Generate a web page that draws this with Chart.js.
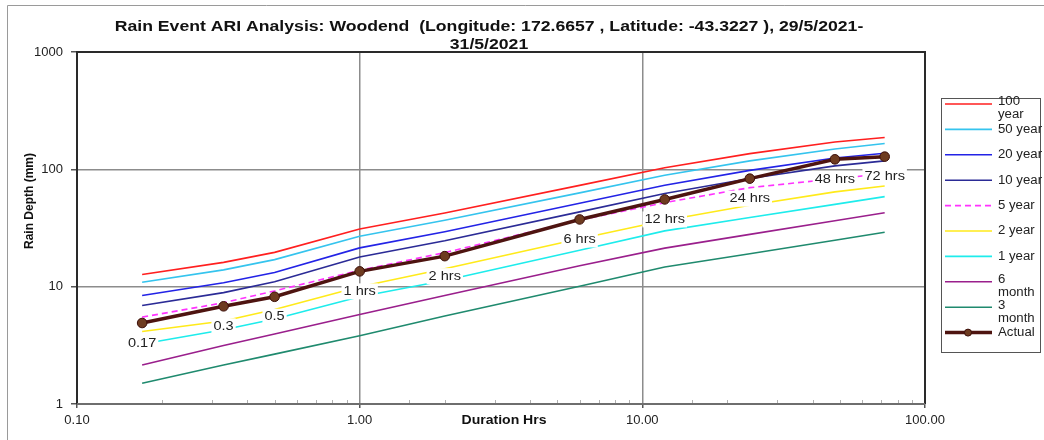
<!DOCTYPE html>
<html>
<head>
<meta charset="utf-8">
<title>Rain Event ARI Analysis: Woodend</title>
<script src="https://cdn.jsdelivr.net/npm/chart.js@4.4.1/dist/chart.umd.min.js"></script>
<style>
  html, body { margin: 0; padding: 0; background: #fff; }
  #wrap { width: 1044px; height: 440px; position: relative; }
</style>
</head>
<body>
<div id="wrap"><canvas id="ariChart"></canvas></div>
<script>
// durations (hrs) on the x axis, and the labels printed next to the actual points
const durations = [0.17, 0.33, 0.5, 1, 2, 6, 12, 24, 48, 72];
const pointLabels = ['0.17', '0.3', '0.5', '1 hrs', '2 hrs', '6 hrs', '12 hrs', '24 hrs', '48 hrs', '72 hrs'];

// rain depth (mm) per ARI curve
const ari100yr = [12.7, 16.1, 19.6, 31, 42.5, 73, 103, 136, 171, 187];
const ari50yr = [10.9, 13.9, 17.0, 26.9, 36.8, 63, 89, 118, 149, 166];
const ari20yr = [8.4, 10.8, 13.2, 21.4, 29.4, 51.4, 73.3, 98, 125, 137];
const ari10yr = [6.9, 8.9, 11.0, 17.9, 24.6, 43.4, 62.2, 83.4, 107, 118];
const ari5yr = [5.5, 7.3, 9.2, 13.8, 19.5, 37, 52, 69.8, 83, 92];
const ari2yr = [4.15, 5.1, 6.4, 10.0, 14.2, 25.6, 36.6, 49.4, 64.3, 72];
const ari1yr = [3.25, 4.3, 5.3, 8.2, 11.3, 20.4, 29.9, 38.9, 50.3, 58.5];
const ari6month = [2.15, 3.15, 3.95, 5.8, 8.4, 15.1, 21.3, 27.9, 36.4, 42.6];
const ari3month = [1.5, 2.15, 2.66, 3.82, 5.63, 10.1, 14.7, 19.1, 24.9, 29.1];
const actualDepth = [4.9, 6.8, 8.2, 13.5, 18.2, 37.4, 55.4, 83.3, 121.7, 128.3];

// labelled ticks
const xTickValues = [0.1, 1, 10, 100];
const yTickValues = [1, 10, 100, 1000];

const FONT = '"Liberation Sans", Arial, Helvetica, sans-serif';
const titleLines = [
  'Rain Event ARI Analysis: Woodend  (Longitude: 172.6657 , Latitude: -43.3227 ), 29/5/2021-',
  '31/5/2021',
];

function isListed(list, v) {
  return list.some((t) => Math.abs(Math.log10(t) - Math.log10(v)) < 1e-6);
}

// the source image is a bit wider than tall, so text is stretched sideways
function wideText(ctx, txt, x, y, sx) {
  ctx.save();
  ctx.translate(x, y);
  ctx.scale(sx, 1);
  ctx.fillText(txt, 0, 0);
  ctx.restore();
}

function curve(label, values, color, extra) {
  return Object.assign({
    label: label,
    data: durations.map((d, i) => ({x: d, y: values[i]})),
    borderColor: color,
    backgroundColor: color,
    borderWidth: 1.6,
    pointRadius: 0,
    fill: false,
    tension: 0,
    order: 1,
  }, extra || {});
}

const datasets = [
  curve('100 year', ari100yr, '#ff1f1f'),
  curve('50 year', ari50yr, '#35c4ee'),
  curve('20 year', ari20yr, '#2323e6'),
  curve('10 year', ari10yr, '#2b2b96'),
  curve('5 year', ari5yr, '#ff33ff', {borderDash: [6, 4]}),
  curve('2 year', ari2yr, '#ffea1a'),
  curve('1 year', ari1yr, '#1eecec'),
  curve('6 month', ari6month, '#9a1f8c'),
  curve('3 month', ari3month, '#1f8a6e'),
  curve('Actual', actualDepth, '#4e1410', {
    borderWidth: 3.5,
    pointRadius: 4.8,
    pointBackgroundColor: '#6e3b20',
    pointBorderColor: '#3a0d08',
    pointBorderWidth: 1,
    order: 0,
  }),
];

// extra drawing: point labels, frame, minor ticks, titles, legend
const decorPlugin = {
  id: 'decor',
  beforeDatasetDraw(chart, args) {
    if (args.index !== chart.data.datasets.length - 1) return;
    const ctx = chart.ctx;
    const xs = chart.scales.x;
    const ys = chart.scales.y;
    ctx.save();
    ctx.font = '13px ' + FONT;
    ctx.textAlign = 'center';
    ctx.textBaseline = 'middle';
    pointLabels.forEach((txt, i) => {
      const px = xs.getPixelForValue(durations[i]);
      const py = ys.getPixelForValue(actualDepth[i]) + 20;
      const w = ctx.measureText(txt).width * 1.12;
      ctx.fillStyle = '#fff';
      ctx.fillRect(px - w / 2 - 2, py - 8, w + 4, 16);
      ctx.fillStyle = '#222';
      wideText(ctx, txt, px, py, 1.12);
    });
    ctx.restore();
  },
  afterDraw(chart) {
    const ctx = chart.ctx;
    const a = chart.chartArea;
    const xs = chart.scales.x;
    ctx.save();

    // outer chart frame (top and left edges are visible)
    ctx.strokeStyle = '#9a9a9a';
    ctx.lineWidth = 1;
    ctx.beginPath();
    ctx.moveTo(7.5, chart.height);
    ctx.lineTo(7.5, 5.5);
    ctx.lineTo(chart.width, 5.5);
    ctx.stroke();

    // minor ticks on the x axis, pointing inwards
    ctx.strokeStyle = '#b0b0b0';
    xs.ticks.forEach((t) => {
      if (isListed(xTickValues, t.value)) return;
      const px = Math.round(xs.getPixelForValue(t.value)) + 0.5;
      ctx.beginPath();
      ctx.moveTo(px, a.bottom);
      ctx.lineTo(px, a.bottom - 4);
      ctx.stroke();
    });

    // plot frame
    ctx.lineWidth = 2;
    ctx.strokeStyle = '#2a2a2a';
    ctx.beginPath();
    ctx.moveTo(a.left, a.bottom);
    ctx.lineTo(a.left, a.top);
    ctx.lineTo(a.right, a.top);
    ctx.lineTo(a.right, a.bottom);
    ctx.stroke();
    ctx.strokeStyle = '#6e6e6e';
    ctx.beginPath();
    ctx.moveTo(a.left, a.bottom);
    ctx.lineTo(a.right, a.bottom);
    ctx.stroke();

    // titles
    ctx.fillStyle = '#111';
    ctx.textAlign = 'center';
    ctx.textBaseline = 'middle';
    ctx.font = 'bold 14px ' + FONT;
    wideText(ctx, titleLines[0], 489, 27, 1.26);
    wideText(ctx, titleLines[1], 489, 45, 1.26);
    ctx.font = 'bold 12px ' + FONT;
    wideText(ctx, 'Duration Hrs', 504, 421, 1.17);
    ctx.save();
    ctx.translate(30, 201);
    ctx.rotate(-Math.PI / 2);
    ctx.fillText('Rain Depth (mm)', 0, 0);
    ctx.restore();

    // legend
    ctx.lineWidth = 1;
    ctx.strokeStyle = '#555';
    ctx.strokeRect(941.5, 98.5, 99, 254);
    ctx.font = '12px ' + FONT;
    ctx.textAlign = 'left';
    ctx.fillStyle = '#222';
    chart.data.datasets.forEach((ds, i) => {
      const ly = 104 + i * 25.4;
      ctx.save();
      ctx.strokeStyle = ds.borderColor;
      ctx.lineWidth = ds.borderWidth;
      ctx.setLineDash(ds.borderDash || []);
      ctx.beginPath();
      ctx.moveTo(945, ly);
      ctx.lineTo(992, ly);
      ctx.stroke();
      if (ds.pointRadius) {
        ctx.setLineDash([]);
        ctx.fillStyle = ds.pointBackgroundColor;
        ctx.strokeStyle = ds.pointBorderColor;
        ctx.lineWidth = 1;
        ctx.beginPath();
        ctx.arc(968, ly, 3.5, 0, Math.PI * 2);
        ctx.fill();
        ctx.stroke();
      }
      ctx.restore();
      const lines = ctx.measureText(ds.label).width * 1.1 > 46 ? ds.label.split(' ') : [ds.label];
      lines.forEach((ln, k) => wideText(ctx, ln, 998, ly - (lines.length > 1 ? 2 : 0) + k * 13, 1.1));
    });

    ctx.restore();
  },
};

new Chart(document.getElementById('ariChart'), {
  type: 'line',
  data: {datasets: datasets},
  plugins: [decorPlugin],
  options: {
    responsive: true,
    maintainAspectRatio: false,
    animation: false,
    layout: {padding: {top: 52, right: 119, left: 0, bottom: 0}},
    plugins: {
      legend: {display: false},
      title: {display: false},
      tooltip: {enabled: false},
    },
    scales: {
      x: {
        type: 'logarithmic',
        min: 0.1,
        max: 100,
        afterFit(scale) {
          scale.height = 36;
        },
        border: {display: false},
        grid: {
          color: (c) => (c.tick && isListed([1, 10], c.tick.value) ? '#8c8c8c' : 'rgba(0,0,0,0)'),
          lineWidth: 1.5,
          tickLength: 4,
          tickColor: (c) => (c.tick && isListed(xTickValues, c.tick.value) ? '#555' : 'rgba(0,0,0,0)'),
        },
        ticks: {
          autoSkip: false,
          maxRotation: 0,
          padding: 5,
          color: '#222',
          font: {size: 13, family: FONT},
          callback: (v) => (isListed(xTickValues, v) ? Number(v).toFixed(2) : ''),
        },
      },
      y: {
        type: 'logarithmic',
        min: 1,
        max: 1000,
        afterFit(scale) {
          scale.width = 77;
        },
        border: {display: false},
        grid: {
          color: (c) => (c.tick && isListed([10, 100], c.tick.value) ? '#8c8c8c' : 'rgba(0,0,0,0)'),
          lineWidth: 1.5,
          tickLength: 6,
          tickColor: (c) => (c.tick && isListed(yTickValues, c.tick.value) ? '#555' : 'rgba(0,0,0,0)'),
        },
        ticks: {
          autoSkip: false,
          padding: 8,
          color: '#222',
          font: {size: 13, family: FONT},
          callback: (v) => (isListed(yTickValues, v) ? String(Math.round(v)) : ''),
        },
      },
    },
  },
});
</script>
</body>
</html>
